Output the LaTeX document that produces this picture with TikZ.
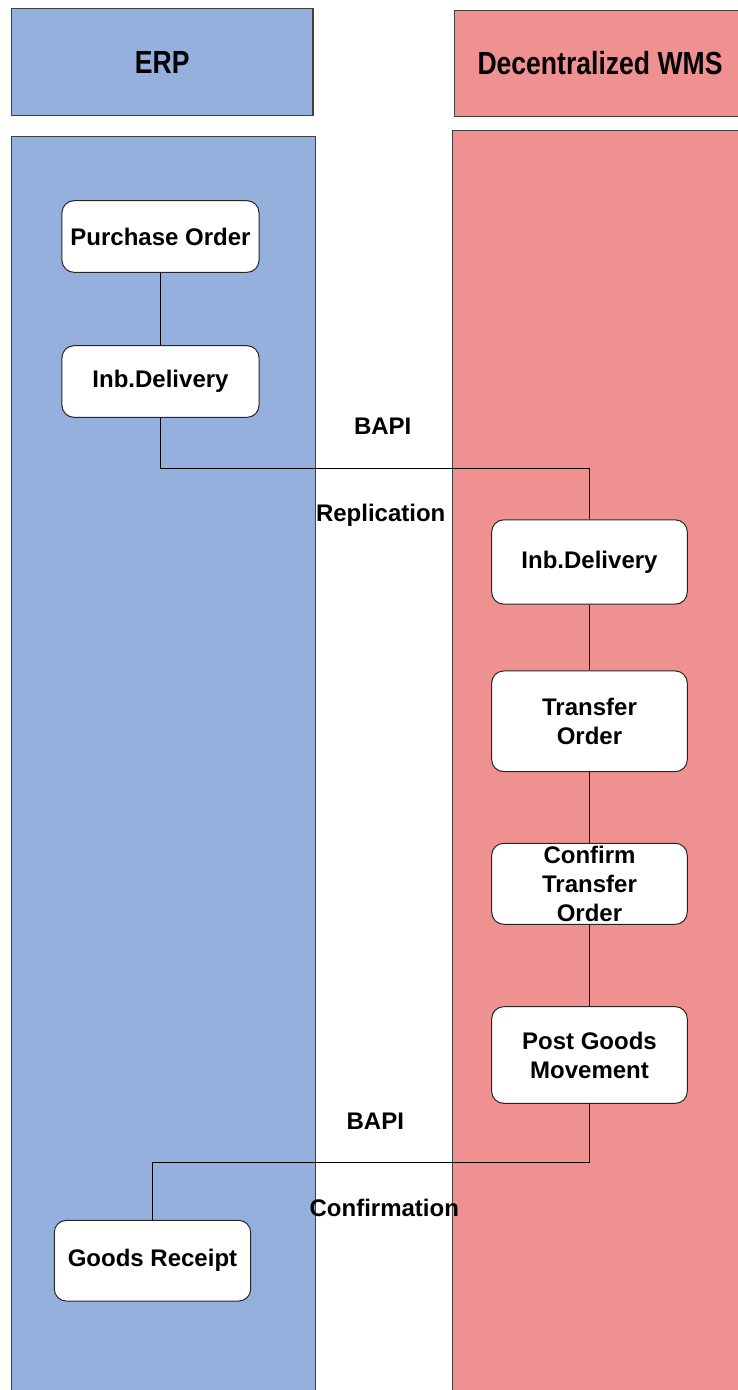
\documentclass[tikz,border=0pt]{standalone}
\usepackage{fontspec}
\setmainfont{Liberation Sans}
\newfontfamily\headfont[FakeStretch=0.83]{Liberation Sans}
\definecolor{erpblue}{RGB}{149,176,221}
\definecolor{wmsred}{RGB}{240,145,145}
\tikzset{
  lane/.style={draw=black!75, line width=0.9pt},
  header/.style={lane, inner sep=0pt, font=\headfont\bfseries\fontsize{24}{28}\selectfont},
  stepbox/.style={draw=black!85, line width=0.75pt, fill=white, rounded corners=9pt,
    inner sep=0pt, align=center, font=\bfseries\fontsize{18}{21.75}\selectfont},
  flowlabel/.style={inner sep=0pt, font=\bfseries\fontsize{18}{21.75}\selectfont},
  link/.style={draw=black, line width=0.75pt}
}
\begin{document}
\begin{tikzpicture}[x=0.75pt,y=-0.75pt]
				\useasboundingbox (0,0) rectangle (738,1390);
				\clip (0,0) rectangle (738,1390);
				% swimlanes
				\node[header, fill=erpblue, minimum width=226.3pt, minimum height=80.5pt] (erpHead) at (162.2,62) {ERP};
				\node[header, fill=wmsred, minimum width=218pt, minimum height=79.2pt] (wmsHead) at (600,63.5) {Decentralized WMS};
				\draw[lane, fill=erpblue] (11.3,136.7) rectangle (315.3,1400);
				\draw[lane, fill=wmsred] (452.3,130.3) rectangle (760,1400);
				% ERP side
				\node[stepbox, minimum width=147.8pt, minimum height=53.7pt] (poERP) at (160.5,236.5) {Purchase Order};
				\node[stepbox, minimum width=147.8pt, minimum height=53.7pt] (inbERP) at (160.5,381.5) {Inb.Delivery};
				\node[stepbox, minimum width=147.3pt, minimum height=60.5pt] (grERP) at (152.5,1260.7) {Goods Receipt};
				% WMS side
				\node[stepbox, minimum width=146.7pt, minimum height=63.2pt] (inbWMS) at (589.5,562) {Inb.Delivery};
				\node[stepbox, minimum width=146.7pt, minimum height=75.5pt] (toWMS) at (589.5,721.3) {Transfer\\Order};
				\node[stepbox, minimum width=146.7pt, minimum height=60.75pt] (ctoWMS) at (589.5,883.8) {Confirm\\Transfer\\Order};
				\node[stepbox, minimum width=146.7pt, minimum height=72.5pt] (pgmWMS) at (589.5,1055) {Post Goods\\Movement};
				% connectors
				\draw[link] (poERP) -- (inbERP);
				\draw[link] (inbERP.south) -- ++(0,51) -| (inbWMS.north);
				\draw[link] (inbWMS) -- (toWMS);
				\draw[link] (toWMS) -- (ctoWMS);
				\draw[link] (ctoWMS) -- (pgmWMS);
				\draw[link] (pgmWMS.south) -- ++(0,58.4) -| (grERP.north);
				% interface labels
				\node[flowlabel] (bapiIn) at (382.7,426.7) {BAPI};
				\node[flowlabel] (replication) at (380.7,515) {Replication};
				\node[flowlabel] (bapiOut) at (375.3,1121.7) {BAPI};
				\node[flowlabel] (confirmation) at (384.3,1208.3) {Confirmation};
			\end{tikzpicture}
\end{document}
